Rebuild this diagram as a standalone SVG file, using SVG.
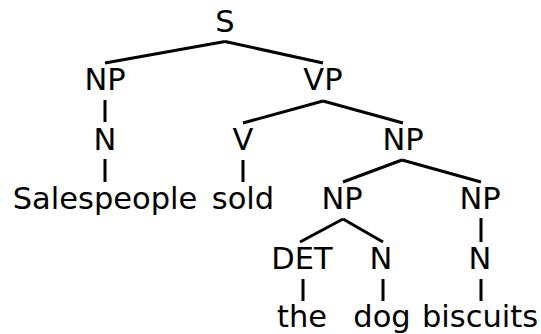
<svg xmlns="http://www.w3.org/2000/svg" width="541" height="334" viewBox="0 0 541 334">
<style>
text{font-family:"DejaVu Sans",sans-serif;font-size:30.5px;fill:#000;text-anchor:middle}
.e line{stroke:#000;stroke-width:3}
</style>
<rect width="541" height="334" fill="#fff"/>
<g class="e" id="connectors">
<line x1="225" y1="41.5" x2="105" y2="63"/>
<line x1="225" y1="41.5" x2="323" y2="63"/>
<line x1="105" y1="100" x2="105" y2="122"/>
<line x1="323" y1="101" x2="243" y2="123"/>
<line x1="323" y1="101" x2="403" y2="123"/>
<line x1="105" y1="159" x2="105" y2="182"/>
<line x1="243" y1="160" x2="243" y2="182"/>
<line x1="402" y1="160" x2="343" y2="182"/>
<line x1="402" y1="160" x2="481" y2="182"/>
<line x1="343" y1="219" x2="300" y2="242"/>
<line x1="343" y1="219" x2="383" y2="242"/>
<line x1="481" y1="218" x2="481" y2="242"/>
<line x1="303" y1="279" x2="303" y2="301"/>
<line x1="383" y1="279" x2="383" y2="301"/>
<line x1="481" y1="279" x2="481" y2="301"/>
</g>
<g id="S"><text x="225" y="32">S</text></g>
<g id="NP1"><text x="105" y="90">NP</text></g>
<g id="VP"><text x="323" y="90">VP</text></g>
<g id="N1"><text x="105" y="150">N</text></g>
<g id="V"><text x="243" y="150">V</text></g>
<g id="NP2"><text x="403" y="150">NP</text></g>
<g id="Salespeople"><text x="105" y="209">Salespeople</text></g>
<g id="sold"><text x="243" y="209">sold</text></g>
<g id="NP3"><text x="342" y="209">NP</text></g>
<g id="NP4"><text x="480" y="209">NP</text></g>
<g id="DET"><text x="302" y="269">DET</text></g>
<g id="N2"><text x="381" y="269">N</text></g>
<g id="N3"><text x="480" y="269">N</text></g>
<g id="the"><text x="302" y="327">the</text></g>
<g id="dog"><text x="382" y="327">dog</text></g>
<g id="biscuits"><text x="480" y="327">biscuits</text></g>
</svg>
